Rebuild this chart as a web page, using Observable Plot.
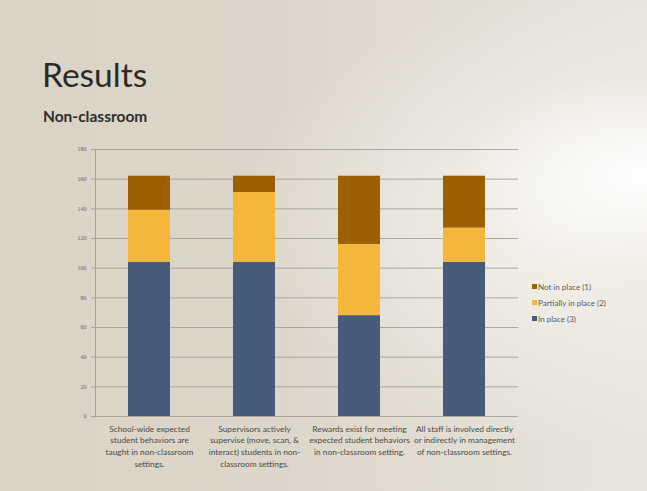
<!DOCTYPE html>
<html>
<head>
<meta charset="utf-8">
<script src="https://cdn.jsdelivr.net/npm/d3@7"></script>
<script src="https://cdn.jsdelivr.net/npm/@observablehq/plot@0.6"></script>
<style>
  html, body { margin: 0; padding: 0; }
  body {
    width: 647px; height: 491px; overflow: hidden; position: relative;
    background:
      radial-gradient(ellipse 260px 140px at 640px 175px, rgba(255,255,255,0.95), rgba(255,255,255,0) 70%),
      radial-gradient(ellipse 420px 300px at 560px 220px, rgba(246,244,240,0.85), rgba(246,244,240,0) 75%),
      linear-gradient(90deg, #dad3c5 0%, #ddd7cb 45%, #e9e5dd 100%);
    font-family: Lato, "Open Sans", sans-serif;
  }
  #head { height: 130px; position: relative; }
  #title { position: absolute; left: 42px; top: 54px; font-size: 33.5px; color: #2a2a2a; font-weight: 400; }
  #subtitle { position: absolute; left: 43px; top: 107px; font-size: 15.5px; color: #2e2e2e; font-weight: 700; }
  #chart { position: absolute; left: 0; top: 130px; }
  #legend { position: absolute; left: 532px; top: 282px; font-size: 8px; color: #5a5a5a; }
  #legend div { height: 16px; display: flex; align-items: flex-start; }
  #legend span.sw { display: inline-block; width: 5px; height: 5px; margin-right: 1px; margin-top: 2px; }
</style>
</head>
<body>
<div id="head">
  <div id="title">Results</div>
  <div id="subtitle">Non-classroom</div>
</div>
<div id="chart"></div>
<div id="legend"></div>
<script>
const categories = [
  "School-wide expected\nstudent behaviors are\ntaught in non-classroom\nsettings.",
  "Supervisors actively\nsupervise (move, scan, &\ninteract) students in non-\nclassroom settings.",
  "Rewards exist for meeting\nexpected student behaviors\nin non-classroom setting.",
  "All staff is involved directly\nor indirectly in management\nof non-classroom settings."
];
const series = ["In place (3)", "Partially in place (2)", "Not in place (1)"];
const inPlace = [104, 104, 68, 104];
const partially = [35, 47, 48, 23];
const notInPlace = [23, 11, 46, 35];
const colors = ["#485b7d", "#f4b73c", "#9c5f02"];
const yTicks = [0, 20, 40, 60, 80, 100, 120, 140, 160, 180];

const seriesValues = [inPlace, partially, notInPlace];
const data = categories.flatMap((c, i) =>
  series.map((s, j) => ({category: c, series: s, value: seriesValues[j][i]})));

const chart = Plot.plot({
  width: 647,
  height: 361,
  marginTop: 19,
  marginBottom: 75,
  marginLeft: 95,
  marginRight: 129,
  style: {background: "transparent", fontFamily: "Lato, 'Open Sans', sans-serif", color: "#555"},
  x: {domain: categories, padding: 0.6, paddingOuter: 0.3, label: null},
  y: {domain: [0, 180], label: null},
  color: {domain: series, range: colors},
  marks: [
    Plot.gridY(yTicks, {stroke: "#a5a199", strokeOpacity: 1, strokeWidth: 0.9}),
    Plot.barY(data, {x: "category", y: "value", fill: "series", order: series}),
    Plot.frame({anchor: "left", stroke: "#a5a199"}),
    Plot.axisY(yTicks, {tickSize: 4, tickPadding: 5, fontSize: 6, fontFamily: "'Liberation Serif', serif", stroke: "#a5a199", fill: "#666", label: null}),
    Plot.axisX({tickSize: 0, tickPadding: 7, fontSize: 8.3, lineHeight: 1.4, fill: "#4a4a4a", label: null})
  ]
});
document.getElementById("chart").appendChild(chart);

const legend = document.getElementById("legend");
[...series].reverse().forEach(s => {
  const row = document.createElement("div");
  const sw = document.createElement("span");
  sw.className = "sw";
  sw.style.background = colors[series.indexOf(s)];
  row.appendChild(sw);
  row.appendChild(document.createTextNode(s));
  legend.appendChild(row);
});
</script>
</body>
</html>
